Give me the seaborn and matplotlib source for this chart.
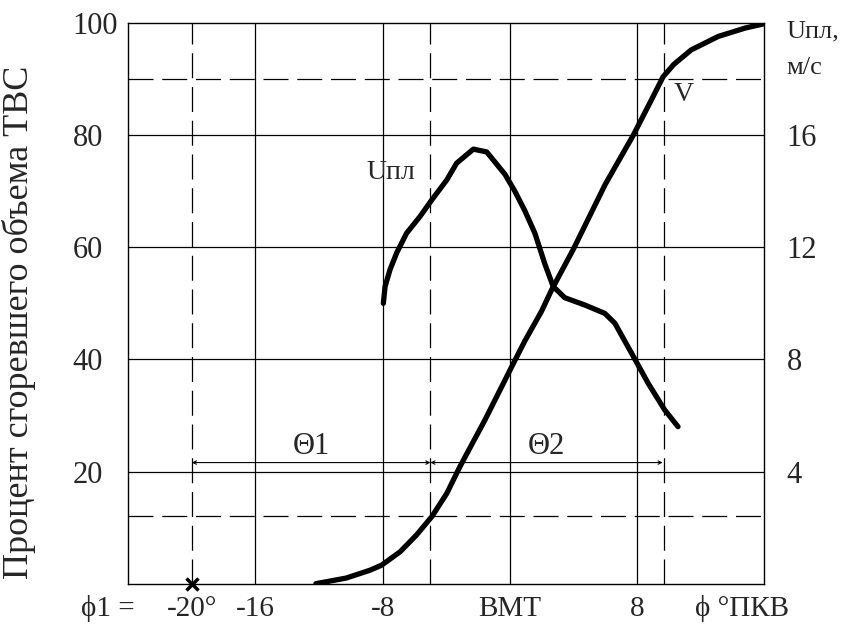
import matplotlib
matplotlib.use("Agg")
import matplotlib.pyplot as plt
import seaborn as sns
import pandas as pd
import numpy as np

# ---- data ----
v_x = [-12.2, -10.3, -8.8, -8.07, -6.9, -5.87, -4.9, -3.97, -3.14, -1.57, 0.06, 0.94,
       1.99, 2.62, 3.98, 5.99, 7.76, 8.9, 9.63, 10.3, 11.4, 13.1, 14.8, 15.9]
v_y = [0.0, 1.0, 2.4, 3.3, 5.7, 8.7, 12.0, 16.1, 20.9, 29.2, 38.4, 43.3,
       48.6, 52.4, 59.6, 71.2, 80.0, 86.3, 90.4, 92.6, 95.2, 97.6, 99.1, 99.8]

u_x = [-7.96, -7.85, -7.54, -7.12, -6.5, -5.65, -4.9, -3.97, -3.35, -2.3, -1.46, -0.31, 0.31,
       0.94, 1.57, 2.2, 2.72, 3.45, 4.71, 5.97, 6.6, 7.65, 8.69, 9.73, 10.57]
u_y = [10.0, 10.6, 11.2, 11.8, 12.5, 13.1, 13.7, 14.4, 15.0, 15.5, 15.4, 14.6, 14.0,
       13.3, 12.5, 11.4, 10.6, 10.2, 9.94, 9.64, 9.29, 8.22, 7.15, 6.2, 5.6]

x_ticks = [-20, -16, -8, 0, 8]
x_ticklabels = ["-20°", "-16", "-8", "ВМТ", "8"]
y_ticks = [20, 40, 60, 80, 100]
y2_ticks = [4, 8, 12, 16]
grid_x = [-16, -8, 0, 8]
grid_y = [20, 40, 60, 80]
dash_x = [-20, -5, 9.7]
dash_y = [90, 12]

df_v = pd.DataFrame({"phi": v_x, "V": v_y})
df_u = pd.DataFrame({"phi": u_x, "U": u_y})

sns.set_style("white")
plt.rcParams["font.family"] = ["Liberation Serif", "DejaVu Serif"]

fig = plt.figure(figsize=(8.55, 6.26), dpi=100)
ax = fig.add_axes([0.150, 0.0676, 0.744, 0.8957])
ax.set_xlim(-24, 16)
ax.set_ylim(0, 100)

for s in ax.spines.values():
    s.set_color("black")
    s.set_linewidth(1.0)

for gx in grid_x:
    ax.axvline(gx, color="black", lw=0.9, zorder=1)
for gy in grid_y:
    ax.axhline(gy, color="black", lw=0.9, zorder=1)
for dx in dash_x:
    ax.axvline(dx, color="black", lw=0.9, dashes=(20, 7), zorder=1)
for dy in dash_y:
    ax.axhline(dy, color="black", lw=0.9, dashes=(20, 7), zorder=1)

sns.lineplot(data=df_v, x="phi", y="V", ax=ax, color="black", lw=3.8, sort=False, zorder=3)

ax.set_xticks(x_ticks)
ax.set_xticklabels(x_ticklabels, fontsize=21)
ax.set_yticks(y_ticks)
ax.set_yticklabels([str(t) for t in y_ticks], fontsize=22)
ax.tick_params(axis="x", length=0, pad=9)
ax.tick_params(axis="y", length=0, pad=40)
for lab in ax.get_yticklabels():
    lab.set_horizontalalignment("left")
ax.set_xlabel("")
ax.set_ylabel("Процент сгоревшего объема ТВС", fontsize=26)
ax.yaxis.set_label_coords(-0.145, 0.467)

ax.text(-25.3, -4.4, "ϕ1 =", fontsize=21, ha="center", va="center", clip_on=False)
ax.text(14.6, -4.4, "ϕ °ПКВ", fontsize=21, ha="center", va="center", clip_on=False)

ax.plot([-20], [0], marker="x", color="black", ms=9, mew=2.5, clip_on=False, zorder=5)

# Theta intervals
arr = dict(arrowstyle="<->", lw=0.8, color="black", shrinkA=0, shrinkB=0, mutation_scale=6)
ax.annotate("", xy=(-20, 21.6), xytext=(-5, 21.6), arrowprops=arr)
ax.annotate("", xy=(-5, 21.6), xytext=(9.6, 21.6), arrowprops=arr)
ax.text(-12.5, 21.9, "Θ1", fontsize=22, ha="center", va="bottom")
ax.text(2.3, 21.9, "Θ2", fontsize=22, ha="center", va="bottom")

ax.text(-7.5, 73.4, "Uпл", fontsize=20, ha="center", va="center")
ax.text(10.9, 87.2, "V", fontsize=20, ha="center", va="center")

ax2 = ax.twinx()
ax2.set_ylim(0, 20)
sns.lineplot(data=df_u, x="phi", y="U", ax=ax2, color="black", lw=3.8, sort=False)
ax2.set_yticks(y2_ticks)
ax2.set_yticklabels([str(t) for t in y2_ticks], fontsize=22)
ax2.tick_params(axis="y", length=0, pad=16)
ax2.set_ylabel("")
for s in ax2.spines.values():
    s.set_visible(False)
ax2.text(1.035, 0.985, "Uпл,", transform=ax2.transAxes, fontsize=19, ha="left", va="center")
ax2.text(1.035, 0.92, "м/с", transform=ax2.transAxes, fontsize=19, ha="left", va="center")

fig.savefig("out.png", dpi=100)
